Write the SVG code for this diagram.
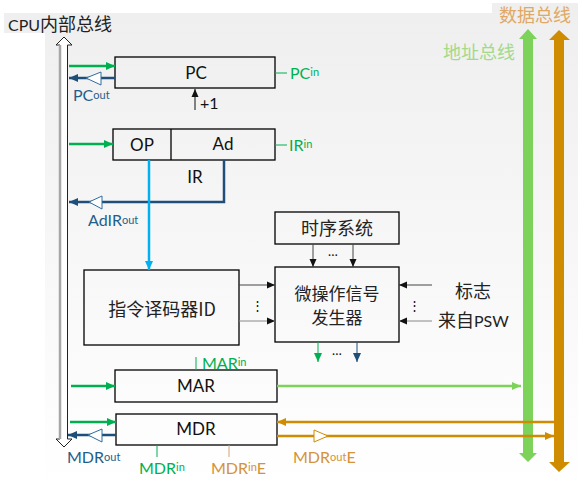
<svg xmlns="http://www.w3.org/2000/svg" width="586" height="489" viewBox="0 0 586 489">
<defs>
<linearGradient id="bg" x1="0" y1="0" x2="0" y2="1">
<stop offset="0" stop-color="#efefef"/>
<stop offset="1" stop-color="#ffffff"/>
</linearGradient>
<marker id="aG" markerUnits="userSpaceOnUse" markerWidth="10" markerHeight="8" refX="9" refY="4" orient="auto"><path d="M0,0 L9,4 L0,8 Z" fill="#00b050"/></marker>
<marker id="aB" markerUnits="userSpaceOnUse" markerWidth="10" markerHeight="8" refX="9" refY="4" orient="auto"><path d="M0,0 L9,4 L0,8 Z" fill="#1f4e79"/></marker>
<marker id="aL" markerUnits="userSpaceOnUse" markerWidth="10" markerHeight="8" refX="9" refY="4" orient="auto"><path d="M0,0 L9,4 L0,8 Z" fill="#00b0f0"/></marker>
<marker id="aK" markerUnits="userSpaceOnUse" markerWidth="9" markerHeight="8" refX="8" refY="4" orient="auto"><path d="M0,0.5 L8,4 L0,7.5 Z" fill="#111"/></marker>
<marker id="aLG" markerUnits="userSpaceOnUse" markerWidth="10" markerHeight="8" refX="9" refY="4" orient="auto"><path d="M0,0 L9,4 L0,8 Z" fill="#7dd35a"/></marker>
<marker id="aO" markerUnits="userSpaceOnUse" markerWidth="10" markerHeight="8" refX="9" refY="4" orient="auto"><path d="M0,0 L9,4 L0,8 Z" fill="#d08c00"/></marker>
</defs>
<style>
.box{fill:none;stroke:#000;stroke-width:1.3}
.lat{font-family:Lato,"Liberation Sans","Noto Sans CJK SC",sans-serif}
.cjk{font-family:"Noto Sans CJK SC","Noto Sans",sans-serif}
.bl{font-size:17px;fill:#111;text-anchor:middle}
.sig{font-size:16px}
.sub{font-size:11px}
.g{fill:#00b050}
.db{fill:#1f5f8b}
.or{fill:#d4923a}
.ln{fill:none;stroke-width:2.5}
.thin{fill:none;stroke-width:1}
</style>

<!-- background -->
<rect x="45" y="13" width="533" height="476" fill="url(#bg)"/>
<rect x="4" y="13" width="41" height="20" fill="#efefef"/>
<rect x="492" y="3" width="86" height="10" fill="#efefef"/>

<!-- buses -->
<g id="cpu-bus">
<path d="M64,37 L72,45 L67.5,45 L67.5,439 L72,439 L64,447 L56,439 L60,439 L60,45 L56,45 Z" fill="#fff" stroke="#222" stroke-width="1"/>
<line x1="60" y1="45" x2="60" y2="439" stroke="#a6a6a6" stroke-width="2.5"/>
<text x="8" y="31" class="lat" font-size="16" fill="#222">CPU<tspan class="cjk" font-size="18">内部总线</tspan></text>
</g>
<g id="address-bus">
<path d="M528,29 L537,39 L533,39 L533,453 L537,453 L528,462 L519,453 L523,453 L523,39 L519,39 Z" fill="#7dd35a"/>
<text x="443" y="59" class="cjk" font-size="18" fill="#a3d98a">地址总线</text>
</g>
<g id="data-bus">
<path d="M559,30 L570,40 L564,40 L564,462 L570,462 L559,472 L549,462 L554,462 L554,40 L549,40 Z" fill="#d08c00"/>
<text x="499" y="22" class="cjk" font-size="18" fill="#e0a865">数据总线</text>
</g>

<!-- nodes -->
<g id="PC">
<rect x="115" y="57" width="160" height="31" class="box"/>
<text x="196" y="79" class="lat bl">PC</text>
</g>
<g id="IR">
<rect x="113" y="129" width="162" height="31" class="box"/>
<line x1="171" y1="129" x2="171" y2="160" stroke="#000" stroke-width="1.3"/>
<text x="142" y="151" class="lat bl">OP</text>
<text x="223" y="150" class="lat bl">Ad</text>
<text x="195" y="183" class="lat bl">IR</text>
</g>
<g id="ID">
<rect x="84" y="270" width="155" height="75" class="box"/>
<text x="162" y="316" class="cjk" font-size="18" fill="#222" text-anchor="middle">指令译码器ID</text>
</g>
<g id="timing">
<rect x="275" y="212" width="124" height="32" class="box"/>
<text x="337" y="235" class="cjk" font-size="18" fill="#222" text-anchor="middle">时序系统</text>
</g>
<g id="micro">
<rect x="275" y="267" width="124" height="75" class="box"/>
<text x="337" y="300" class="cjk" font-size="17" fill="#222" text-anchor="middle">微操作信号</text>
<text x="337" y="324" class="cjk" font-size="17" fill="#222" text-anchor="middle">发生器</text>
</g>
<g id="MAR">
<rect x="115" y="370" width="162" height="32" class="box"/>
<text x="196" y="392" class="lat bl">MAR</text>
</g>
<g id="MDR">
<rect x="116" y="414" width="161" height="31" class="box"/>
<text x="196" y="435" class="lat bl">MDR</text>
</g>

<!-- connectors -->
<g id="connectors">
<!-- PC -->
<line x1="69" y1="66" x2="115" y2="66" stroke="#00b050" class="ln" marker-end="url(#aG)"/>
<line x1="115" y1="78" x2="69" y2="78" stroke="#1f4e79" class="ln" marker-end="url(#aB)"/>
<path d="M86,78 L101,72 L101,85 Z" fill="#fff" stroke="#2e6c9e" stroke-width="1"/>
<line x1="195" y1="110" x2="195" y2="89" stroke="#111" class="thin" marker-end="url(#aK)"/>
<line x1="275" y1="73" x2="287" y2="73" stroke="#00b050" class="thin"/>
<!-- IR -->
<line x1="69" y1="144" x2="113" y2="144" stroke="#00b050" class="ln" marker-end="url(#aG)"/>
<line x1="275" y1="145" x2="287" y2="145" stroke="#00b050" class="thin"/>
<path d="M224,160 L224,202 L69,202" stroke="#1f4e79" class="ln" marker-end="url(#aB)"/>
<path d="M89,202 L102,196 L102,209 Z" fill="#fff" stroke="#2e6c9e" stroke-width="1"/>
<line x1="149" y1="160" x2="149" y2="270" stroke="#00b0f0" class="ln" marker-end="url(#aL)"/>
<!-- ID to micro -->
<line x1="239" y1="285" x2="275" y2="285" stroke="#444" class="thin" marker-end="url(#aK)"/>
<line x1="239" y1="321" x2="275" y2="321" stroke="#888" class="thin" marker-end="url(#aK)"/>
<!-- timing to micro -->
<line x1="313" y1="244" x2="313" y2="267" stroke="#444" class="thin" marker-end="url(#aK)"/>
<line x1="353" y1="244" x2="353" y2="267" stroke="#444" class="thin" marker-end="url(#aK)"/>
<!-- flags to micro -->
<line x1="432" y1="285" x2="399" y2="285" stroke="#444" class="thin" marker-end="url(#aK)"/>
<line x1="432" y1="321" x2="399" y2="321" stroke="#888" class="thin" marker-end="url(#aK)"/>
<!-- micro outputs -->
<line x1="318" y1="342" x2="318" y2="362" stroke="#00b050" class="thin" marker-end="url(#aG)"/>
<line x1="357" y1="342" x2="357" y2="362" stroke="#1f4e79" class="thin" marker-end="url(#aB)"/>
<!-- MAR -->
<line x1="196" y1="357" x2="196" y2="370" stroke="#00b050" class="thin"/>
<line x1="71" y1="386" x2="115" y2="386" stroke="#00b050" class="ln" marker-end="url(#aG)"/>
<line x1="277" y1="386" x2="521" y2="386" stroke="#7dd35a" class="ln" marker-end="url(#aLG)"/>
<!-- MDR -->
<line x1="70" y1="422" x2="116" y2="422" stroke="#00b050" class="ln" marker-end="url(#aG)"/>
<line x1="116" y1="435" x2="68" y2="435" stroke="#1f4e79" class="ln" marker-end="url(#aB)"/>
<path d="M88,435 L102,429 L102,442 Z" fill="#fff" stroke="#2e6c9e" stroke-width="1"/>
<line x1="157" y1="445" x2="157" y2="457" stroke="#00b050" class="thin"/>
<line x1="229" y1="445" x2="229" y2="457" stroke="#d4a373" class="thin"/>
<line x1="554" y1="422" x2="277" y2="422" stroke="#d08c00" class="ln" marker-end="url(#aO)"/>
<line x1="277" y1="436" x2="554" y2="436" stroke="#d08c00" class="ln" marker-end="url(#aO)"/>
<path d="M328,436 L314,430 L314,442 Z" fill="#fff" stroke="#d08c00" stroke-width="1"/>
</g>

<!-- labels -->
<g id="labels">
<text x="73" y="101" class="lat sig db">PC<tspan class="sub" dy="-2">out</tspan></text>
<text x="200" y="109" class="lat" font-size="16" fill="#111">+1</text>
<text x="290" y="79" class="lat sig g">PC<tspan class="sub" dy="-3">in</tspan></text>
<text x="289" y="151" class="lat sig g">IR<tspan class="sub" dy="-3">in</tspan></text>
<text x="88" y="226" class="lat sig db">AdIR<tspan class="sub" dy="-2">out</tspan></text>
<text x="257" y="310" class="lat" font-size="13" fill="#111" text-anchor="middle">⋮</text>
<text x="333" y="256" class="lat" font-size="13" fill="#111" text-anchor="middle">…</text>
<text x="414" y="310" class="lat" font-size="13" fill="#111" text-anchor="middle">⋮</text>
<text x="337" y="355" class="lat" font-size="13" fill="#111" text-anchor="middle">…</text>
<text x="455" y="298" class="cjk" font-size="18" fill="#222">标志</text>
<text x="438" y="327" class="cjk" font-size="18" fill="#222">来自<tspan class="lat" font-size="16">PSW</tspan></text>
<text x="202" y="369" class="lat sig g">MAR<tspan class="sub" dy="-3">in</tspan></text>
<text x="67" y="463" class="lat sig db">MDR<tspan class="sub" dy="-2">out</tspan></text>
<text x="139" y="474" class="lat sig g">MDR<tspan class="sub" dy="-3">in</tspan></text>
<text x="211" y="474" class="lat sig or">MDR<tspan class="sub" dy="-3">in</tspan><tspan dy="3">E</tspan></text>
<text x="293" y="463" class="lat sig or">MDR<tspan class="sub" dy="-2">out</tspan><tspan dy="2">E</tspan></text>
</g>
</svg>
